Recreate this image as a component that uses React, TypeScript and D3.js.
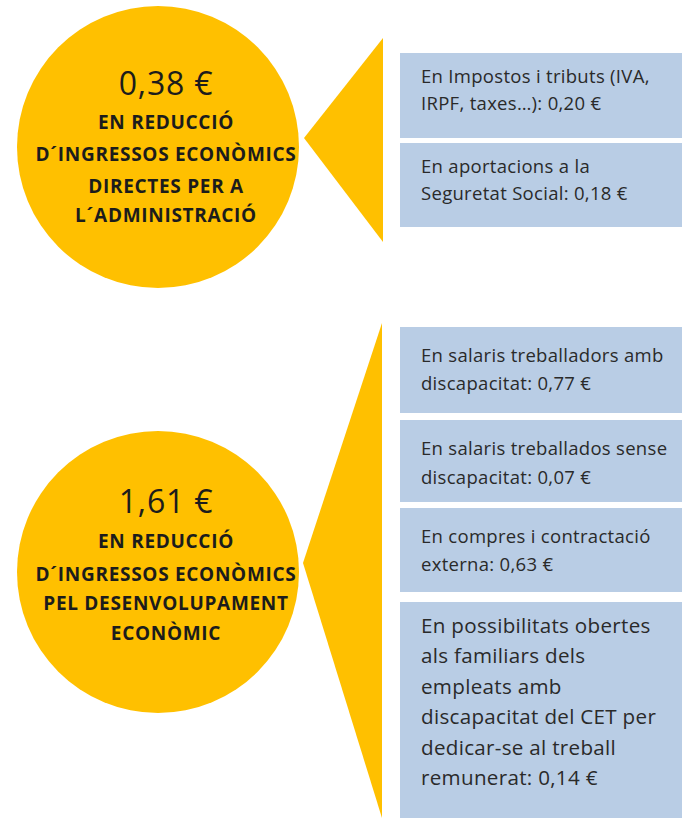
import React from "react";
import * as d3 from "d3";

// ---- data ----
const groupValues = ["0,38 €", "1,61 €"];
const groupLabels = [
  ["EN REDUCCIÓ", "D´INGRESSOS ECONÒMICS", "DIRECTES PER A", "L´ADMINISTRACIÓ"],
  ["EN REDUCCIÓ", "D´INGRESSOS ECONÒMICS", "PEL DESENVOLUPAMENT", "ECONÒMIC"],
];
const topItems = [
  ["En Impostos i tributs (IVA,", "IRPF, taxes…): 0,20 €"],
  ["En aportacions a la", "Seguretat Social: 0,18 €"],
];
const bottomItems = [
  ["En salaris treballadors amb", "discapacitat: 0,77 €"],
  ["En salaris treballados sense", "discapacitat: 0,07 €"],
  ["En compres i contractació", "externa: 0,63 €"],
  [
    "En possibilitats obertes",
    "als familiars dels",
    "empleats amb",
    "discapacitat del CET per",
    "dedicar-se al treball",
    "remunerat: 0,14 €",
  ],
];

// ---- layout ----
const W = 682;
const H = 818;
const YELLOW = "#FFC000";
const BLUE = "#B9CDE5";
const FONT = "'Open Sans', Lato, sans-serif";

const groups = [
  {
    cx: 158, cy: 147, r: 141, textX: 166,
    valueY: 95, labelYs: [129, 161, 193, 222],
    tri: { ax: 304, ay: 138, bx: 383, top: 38, bottom: 242 },
    items: topItems,
    boxes: [
      { y0: 53, y1: 138, base: 83, step: 27, size: 18.5 },
      { y0: 143, y1: 227, base: 173, step: 27, size: 18.5 },
    ],
  },
  {
    cx: 158, cy: 572, r: 141, textX: 166,
    valueY: 513, labelYs: [548, 581, 610, 640],
    tri: { ax: 303, ay: 563, bx: 382, top: 323, bottom: 818 },
    items: bottomItems,
    boxes: [
      { y0: 327, y1: 413, base: 362, step: 28, size: 18.5 },
      { y0: 420, y1: 502, base: 455, step: 29, size: 18.5 },
      { y0: 508, y1: 592, base: 543, step: 28, size: 18.5 },
      { y0: 602, y1: 830, base: 633, step: 30.4, size: 20.6 },
    ],
  },
];

const BOX_X0 = 400;
const BOX_X1 = 690;
const TEXT_X = 421;

function triPath(t: { ax: number; ay: number; bx: number; top: number; bottom: number }) {
  const p = d3.path();
  p.moveTo(t.ax, t.ay);
  p.lineTo(t.bx, t.top);
  p.lineTo(t.bx, t.bottom);
  p.closePath();
  return p.toString();
}

export default function App() {
  return (
    <svg
      width={W}
      height={H}
      viewBox={`0 0 ${W} ${H}`}
      style={{ position: "absolute", left: 0, top: 0, background: "#fff" }}
    >
      <rect x={0} y={0} width={W} height={H} fill="#fff" />
      {groups.map((g, gi) => (
        <g key={gi}>
          <circle cx={g.cx} cy={g.cy} r={g.r} fill={YELLOW} />
          <path d={triPath(g.tri)} fill={YELLOW} />
          <text
            x={g.textX}
            y={g.valueY}
            textAnchor="middle"
            fontFamily={FONT}
            fontSize={32}
            letterSpacing={0.8}
            fill="#1c1c1c"
          >
            {groupValues[gi]}
          </text>
          {groupLabels[gi].map((l, li) => (
            <text
              key={li}
              x={g.textX}
              y={g.labelYs[li]}
              textAnchor="middle"
              fontFamily={FONT}
              fontWeight={700}
              fontSize={19}
              letterSpacing={0.7}
              fill="#1c1c1c"
            >
              {l}
            </text>
          ))}
          {g.boxes.map((b, bi) => (
            <g key={bi}>
              <rect x={BOX_X0} y={b.y0} width={BOX_X1 - BOX_X0} height={b.y1 - b.y0} fill={BLUE} />
              {g.items[bi].map((line, li) => (
                <text
                  key={li}
                  x={TEXT_X}
                  y={b.base + li * b.step}
                  fontFamily={FONT}
                  fontSize={b.size}
                  letterSpacing={0.3}
                  fill="#2a2a2a"
                >
                  {line}
                </text>
              ))}
            </g>
          ))}
        </g>
      ))}
    </svg>
  );
}
